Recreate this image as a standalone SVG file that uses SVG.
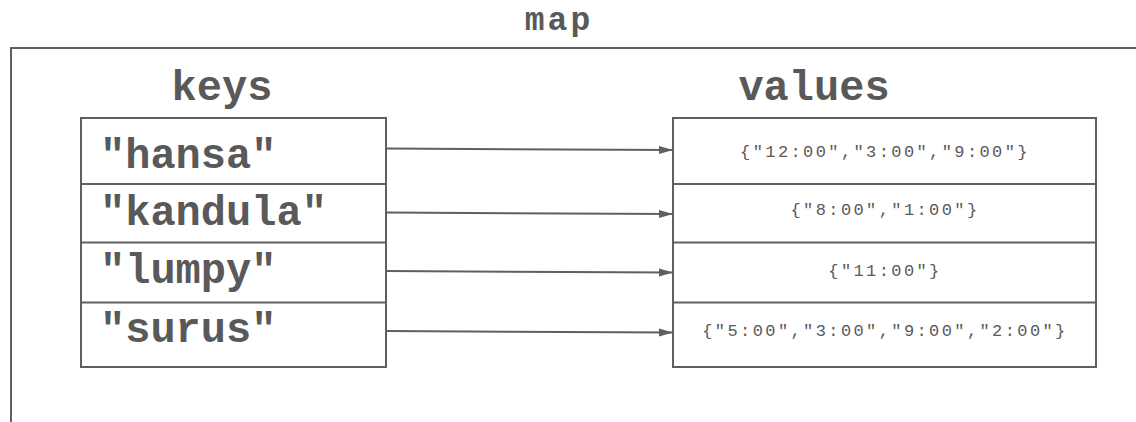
<svg xmlns="http://www.w3.org/2000/svg" width="1136" height="422" viewBox="0 0 1136 422">
  <style>
    .box { fill: #ffffff; stroke: #5f5f5f; stroke-width: 2; }
    .div { stroke: #5f5f5f; stroke-width: 2; }
    .title { font-family: "Courier New", "Nimbus Mono PS", "FreeMono", "Liberation Mono", monospace; font-weight: bold; fill: #595959; }
    .key { font-family: "Courier New", "Nimbus Mono PS", "FreeMono", "Liberation Mono", monospace; font-weight: bold; font-size: 42px; fill: #595959; }
    .val { font-family: "Liberation Mono", "DejaVu Sans Mono", monospace; font-size: 17px; letter-spacing: 2.4px; fill: #595959; text-anchor: middle; }
    .conn { stroke: #5f5f5f; stroke-width: 2; fill: none; marker-end: url(#arrow); }
  </style>
  <defs>
    <marker id="arrow" markerWidth="14" markerHeight="10" refX="14" refY="5" orient="auto" markerUnits="userSpaceOnUse">
      <polygon points="0,1 14,5 0,9" fill="#5f5f5f"/>
    </marker>
  </defs>
  <rect width="1136" height="422" fill="#ffffff"/>
  <g id="map">
    <rect class="box" x="11" y="48" width="1200" height="500" fill="none"/>
    <text class="title" x="559" y="30" font-size="33" letter-spacing="3" text-anchor="middle">map</text>
  </g>
  <g id="keys">
    <text class="title" x="222" y="100" font-size="42" text-anchor="middle">keys</text>
    <rect class="box" x="81" y="118" width="305" height="249"/>
    <line class="div" x1="80" y1="184" x2="387" y2="184"/>
    <line class="div" x1="80" y1="242.5" x2="387" y2="242.5"/>
    <line class="div" x1="80" y1="302.5" x2="387" y2="302.5"/>
    <text class="key" x="100" y="168">"hansa"</text>
    <text class="key" x="100" y="225">"kandula"</text>
    <text class="key" x="100" y="283">"lumpy"</text>
    <text class="key" x="100" y="342">"surus"</text>
  </g>
  <g id="values">
    <text class="title" x="814" y="100" font-size="42" text-anchor="middle">values</text>
    <rect class="box" x="673" y="118" width="423" height="249"/>
    <line class="div" x1="672" y1="184" x2="1097" y2="184"/>
    <line class="div" x1="672" y1="242.5" x2="1097" y2="242.5"/>
    <line class="div" x1="672" y1="302.5" x2="1097" y2="302.5"/>
    <text class="val" x="885" y="157">{"12:00","3:00","9:00"}</text>
    <text class="val" x="885" y="215">{"8:00","1:00"}</text>
    <text class="val" x="885" y="276">{"11:00"}</text>
    <text class="val" x="885" y="336">{"5:00","3:00","9:00","2:00"}</text>
  </g>
  <g id="connectors">
    <line class="conn" x1="386" y1="148.5" x2="673" y2="150"/>
    <line class="conn" x1="386" y1="212.5" x2="673" y2="214"/>
    <line class="conn" x1="386" y1="271" x2="673" y2="272.5"/>
    <line class="conn" x1="386" y1="331" x2="673" y2="332.5"/>
  </g>
</svg>
